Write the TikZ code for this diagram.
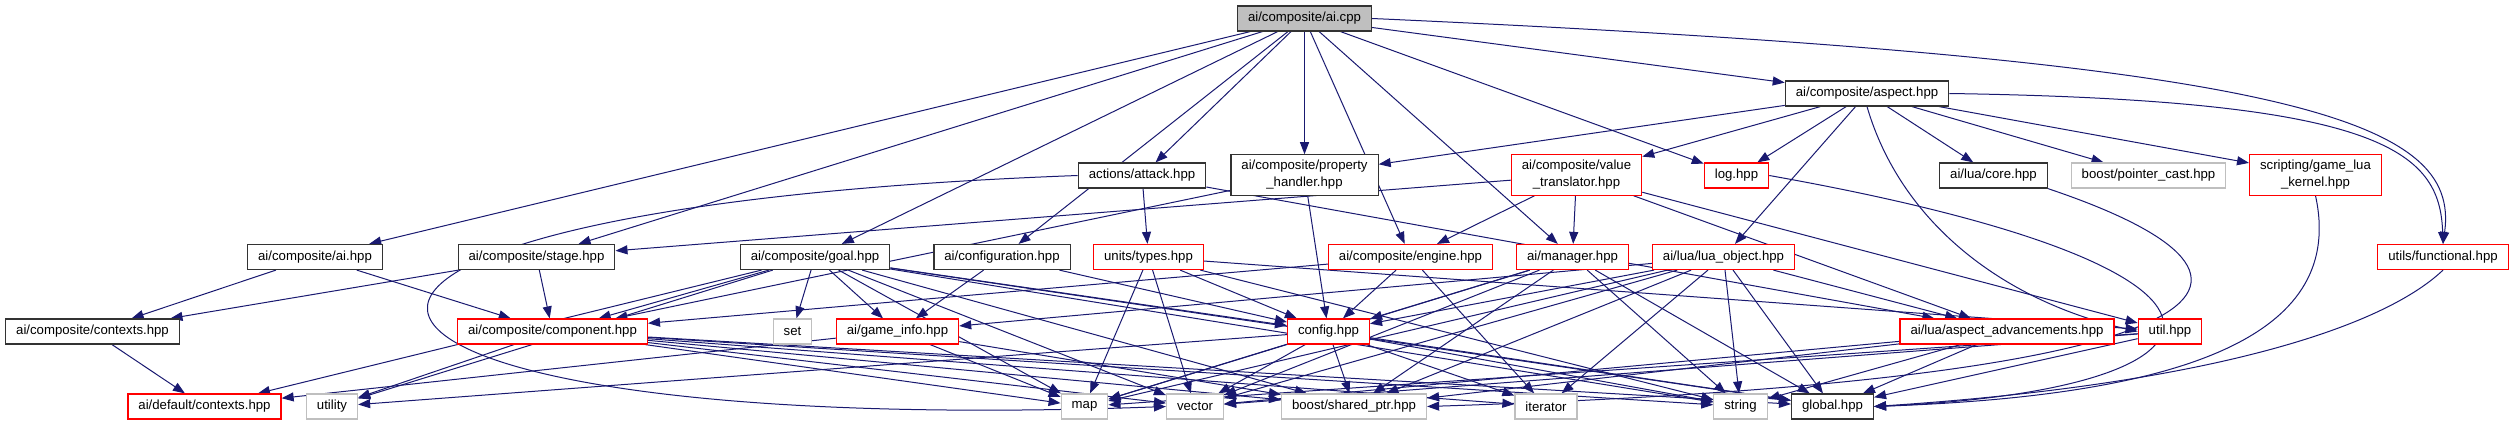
\documentclass[tikz,border=0pt]{standalone}
\usepackage{fontspec}
\setmainfont{Liberation Sans}
\usetikzlibrary{arrows.meta,positioning,backgrounds}
\definecolor{edgeBlue}{HTML}{191970}
\definecolor{extGray}{HTML}{BFBFBF}
\definecolor{undocRed}{HTML}{FF0000}
\tikzset{
  hfile/.style={draw=black!80, fill=white, line width=1.2pt, rectangle,
    inner xsep=10.5pt, inner ysep=5.5pt, minimum height=25pt, align=center,
    font=\fontsize{13.2}{17}\selectfont},
  redfile/.style={hfile, draw=undocRed},
  sysfile/.style={hfile, draw=extGray},
  rootfile/.style={hfile, fill=extGray},
  dep/.style={edgeBlue, line width=1pt, -{Triangle[length=12pt,width=9pt]}}
}
\begin{document}
\begin{tikzpicture}[x=1pt, y=-1pt]
  \useasboundingbox (0,0) rectangle (2514,425);
  % Source file
  \node[rootfile] (cpp) at (1304.5,18.5) {ai/composite/ai.cpp};
  \node[hfile] (aspect) at (1867,93.5) {ai/composite/aspect.hpp};
  % Second level
  \node[hfile] (attack) at (1142,175.5) {actions/attack.hpp};
  \node[hfile] (prop) at (1304.5,175) {ai/composite/property\\\_handler.hpp};
  \node[redfile] (valtr) at (1576.5,175) {ai/composite/value\\\_translator.hpp};
  \node[redfile] (log) at (1736.5,175.5) {log.hpp};
  \node[hfile] (luacore) at (1993.5,175.5) {ai/lua/core.hpp};
  \node[sysfile] (ptrcast) at (2148.5,175.5) {boost/pointer\_cast.hpp};
  \node[redfile] (kernel) at (2315.5,175) {scripting/game\_lua\\\_kernel.hpp};
  % Third level
  \node[hfile] (aihpp) at (315,257) {ai/composite/ai.hpp};
  \node[hfile] (stage) at (536.5,257) {ai/composite/stage.hpp};
  \node[hfile] (goal) at (815,257) {ai/composite/goal.hpp};
  \node[hfile] (aiconf) at (1002,257) {ai/configuration.hpp};
  \node[redfile] (types) at (1148.5,257) {units/types.hpp};
  \node[redfile] (engine) at (1410.5,257) {ai/composite/engine.hpp};
  \node[redfile] (manager) at (1572.5,257) {ai/manager.hpp};
  \node[redfile] (luaobj) at (1723.5,257) {ai/lua/lua\_object.hpp};
  \node[redfile] (functional) at (2443,257) {utils/functional.hpp};
  % Fourth level
  \node[hfile] (contexts) at (92.5,331.5) {ai/composite/contexts.hpp};
  \node[redfile] (component) at (552.5,331.5) {ai/composite/component.hpp};
  \node[sysfile] (set) at (792.5,331.5) {set};
  \node[redfile] (gameinfo) at (897.5,331.5) {ai/game\_info.hpp};
  \node[redfile] (config) at (1328.5,331.5) {config.hpp};
  \node[redfile] (aspadv) at (2007,331.5) {ai/lua/aspect\_advancements.hpp};
  \node[redfile] (util) at (2170,331.5) {util.hpp};
  % Bottom level
  \node[redfile] (defctx) at (204.5,406.5) {ai/default/contexts.hpp};
  \node[sysfile] (utility) at (332,406.5) {utility};
  \node[sysfile] (map) at (1084.5,406.5) {map};
  \node[sysfile] (vector) at (1195,406.5) {vector};
  \node[sysfile] (shptr) at (1354,406.5) {boost/shared\_ptr.hpp};
  \node[sysfile] (iterator) at (1546,406.5) {iterator};
  \node[sysfile] (string) at (1740.5,406.5) {string};
  \node[hfile] (global) at (1832.5,406.5) {global.hpp};
  \begin{pgfonlayer}{background}
  % Straight includes
  \foreach \s/\t in {cpp/aihpp, cpp/stage, cpp/goal, cpp/aiconf, cpp/attack,
      cpp/prop, cpp/engine, cpp/manager, cpp/log, cpp/aspect,
      aspect/prop, aspect/valtr, aspect/log, aspect/luaobj,
      aspect/luacore, aspect/ptrcast, aspect/kernel,
      aihpp/contexts, aihpp/component, stage/contexts, stage/component,
      contexts/defctx,
      goal/component, goal/set, goal/gameinfo, goal/config, goal/defctx,
      goal/utility, goal/map, goal/vector, goal/string, goal/shptr, goal/global,
      aiconf/gameinfo, aiconf/config, attack/types, attack/aspadv,
      prop/config, prop/component,
      valtr/stage, valtr/engine, valtr/manager, valtr/util, valtr/aspadv,
      types/map, types/vector, types/string, types/config, types/util,
      engine/component, engine/config, engine/iterator,
      manager/config, manager/map, manager/shptr, manager/string,
      manager/global, manager/vector,
      luaobj/config, luaobj/aspadv, luaobj/iterator, luaobj/string,
      luaobj/vector, luaobj/map, luaobj/shptr, luaobj/global, luaobj/gameinfo,
      aspadv/global, aspadv/string, aspadv/vector, aspadv/shptr,
      util/global, util/vector, util/map,
      config/utility, config/map, config/vector, config/string,
      config/iterator, config/shptr, config/global,
      gameinfo/map, gameinfo/shptr, gameinfo/defctx,
      component/map, component/vector, component/string, component/shptr,
      component/iterator, component/global, component/utility}
    \draw[dep] (\s) -- (\t);
  % Curved includes
  \draw[dep] (cpp.east) .. controls (2300,60) and (2460,120) .. (functional.north);
  \draw[dep] (aspect.east) .. controls (2380,100) and (2440,150) .. (functional.north);
  \draw[dep] (aspect.south) .. controls (1900,220) and (2000,300) .. (util.west);
  \draw[dep] (kernel.south) .. controls (2345,330) and (2200,395) .. (global.east);
  \draw[dep] (functional.south) .. controls (2380,330) and (2200,385) .. (global.east);
  \draw[dep] (log.east) .. controls (2300,270) and (2250,390) .. (global.east);
  \draw[dep] (luacore.south east) .. controls (2320,280) and (2250,380) .. (shptr.east);
  \draw[dep] (attack.west) .. controls (150,210) and (250,440) .. (vector.west);
  \end{pgfonlayer}
\end{tikzpicture}
\end{document}
